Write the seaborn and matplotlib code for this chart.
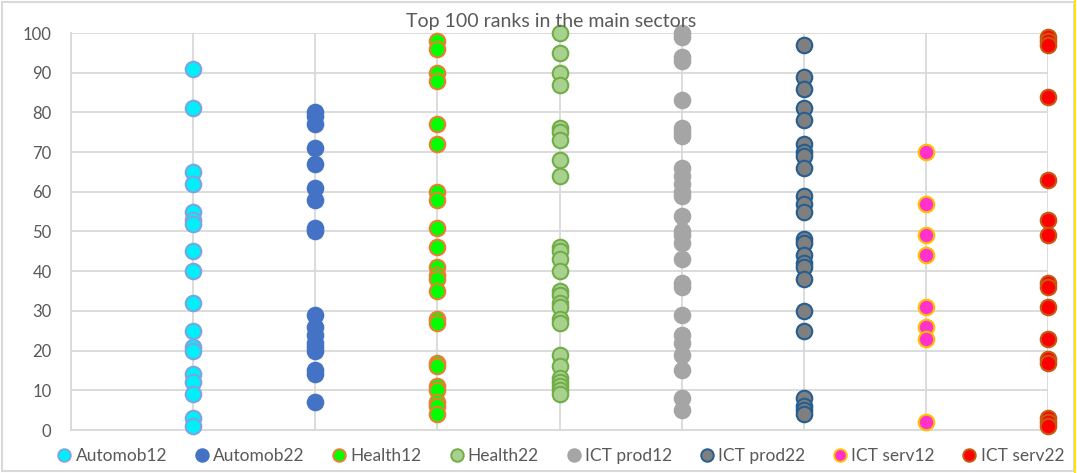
import matplotlib
matplotlib.use("Agg")
import matplotlib.pyplot as plt
import seaborn as sns
import pandas as pd
from matplotlib.lines import Line2D

# ---- data ----
series_names = ["Automob12", "Automob22", "Health12", "Health22",
                "ICT prod12", "ICT prod22", "ICT serv12", "ICT serv22"]
automob12 = [91, 81, 65, 62, 55, 53, 52, 45, 40, 32, 25, 21, 20, 14, 12, 9, 3, 1]
automob22 = [80, 79, 77, 71, 67, 61, 58, 51, 50, 29, 26, 24, 22, 21, 20, 15, 14, 7]
health12 = [98, 96, 90, 88, 77, 72, 60, 58, 51, 46, 41, 39, 38, 35, 28, 27, 17, 16, 11, 10, 7, 6, 4]
health22 = [100, 95, 90, 87, 76, 75, 73, 68, 64, 46, 45, 43, 40, 35, 34, 32, 31, 28, 27, 19, 16, 13, 12, 11, 10, 9]
ict_prod12 = [100, 99, 94, 93, 83, 76, 75, 74, 66, 64, 62, 60, 59, 54, 50, 49, 47, 43, 37, 36, 29, 24, 22, 19, 15, 8, 5]
ict_prod22 = [97, 89, 86, 81, 78, 72, 70, 69, 66, 59, 57, 55, 48, 47, 44, 42, 41, 38, 30, 25, 8, 6, 5, 4]
ict_serv12 = [70, 57, 49, 44, 31, 26, 23, 2]
ict_serv22 = [99, 98, 97, 84, 63, 53, 49, 37, 36, 31, 23, 18, 17, 3, 2, 1]
y_ticks = [0, 10, 20, 30, 40, 50, 60, 70, 80, 90, 100]
title = "Top 100 ranks in the main sectors"

all_series = [automob12, automob22, health12, health22,
              ict_prod12, ict_prod22, ict_serv12, ict_serv22]

face_colors = ["#00F0FA", "#4472C4", "#00FF00", "#A9D18E",
               "#A5A5A5", "#7F7F7F", "#FF33CC", "#FF0000"]
edge_colors = ["#7FA3E0", "#4472C4", "#ED7D31", "#70AD47",
               "#A5A5A5", "#255E91", "#FFC000", "#C55A11"]

rows = []
for i, (name, vals) in enumerate(zip(series_names, all_series)):
    for v in vals:
        rows.append({"series": name, "x": i + 1, "rank": v})
df = pd.DataFrame(rows)

sns.set_theme(style="white")
plt.rcParams['font.family'] = ['Lato', 'DejaVu Sans']

fig = plt.figure(figsize=(10.77, 4.73), dpi=100)
ax = fig.add_axes([71 / 1077, 43 / 473, (1048 - 71) / 1077, (430 - 33) / 473])

for i, name in enumerate(series_names):
    sub = df[df["series"] == name]
    sns.scatterplot(data=sub, x="x", y="rank", ax=ax, s=125,
                    color=face_colors[i], edgecolor=edge_colors[i],
                    linewidth=1.5, clip_on=False, zorder=3, legend=False)

ax.set_xlim(0, 8)
ax.set_ylim(0, 100)
ax.set_xticks(range(0, 9))
ax.set_xticklabels([])
ax.set_yticks(y_ticks)
ax.set_yticklabels([str(t) for t in y_ticks], color="#595959", fontsize=12)
ax.tick_params(axis="both", length=0, pad=14)
ax.grid(True, color="#D9D9D9", linewidth=1.3)
ax.set_axisbelow(True)
for s in ["top", "right"]:
    ax.spines[s].set_visible(False)
for s in ["left", "bottom"]:
    ax.spines[s].set_color("#D9D9D9")
    ax.spines[s].set_linewidth(1.3)
ax.set_xlabel("")
ax.set_ylabel("")

fig.text(551 / 1077, 1 - 22 / 473, title, ha="center", va="center",
         color="#595959", fontsize=14)

handles = [Line2D([], [], marker="o", linestyle="", markersize=9,
                  markerfacecolor=face_colors[i], markeredgecolor=edge_colors[i],
                  markeredgewidth=1.4) for i in range(len(series_names))]
fig.legend(handles, series_names, loc="center", ncol=8,
           bbox_to_anchor=(560 / 1077, 1 - 456 / 473), frameon=False,
           fontsize=12.5, labelcolor="#595959", handletextpad=0.15,
           columnspacing=1.5, handlelength=1.0)

# chart border
fig.patches.append(plt.Rectangle((0.002, 0.004), 0.995, 0.992, transform=fig.transFigure,
                                 fill=False, edgecolor="#D9D9D9", linewidth=1.5))
fig.lines.append(Line2D([0.998, 0.998], [0.0, 1.0], transform=fig.transFigure,
                        color="#FFE600", linewidth=1.5))

fig.savefig("out.png", dpi=100)
